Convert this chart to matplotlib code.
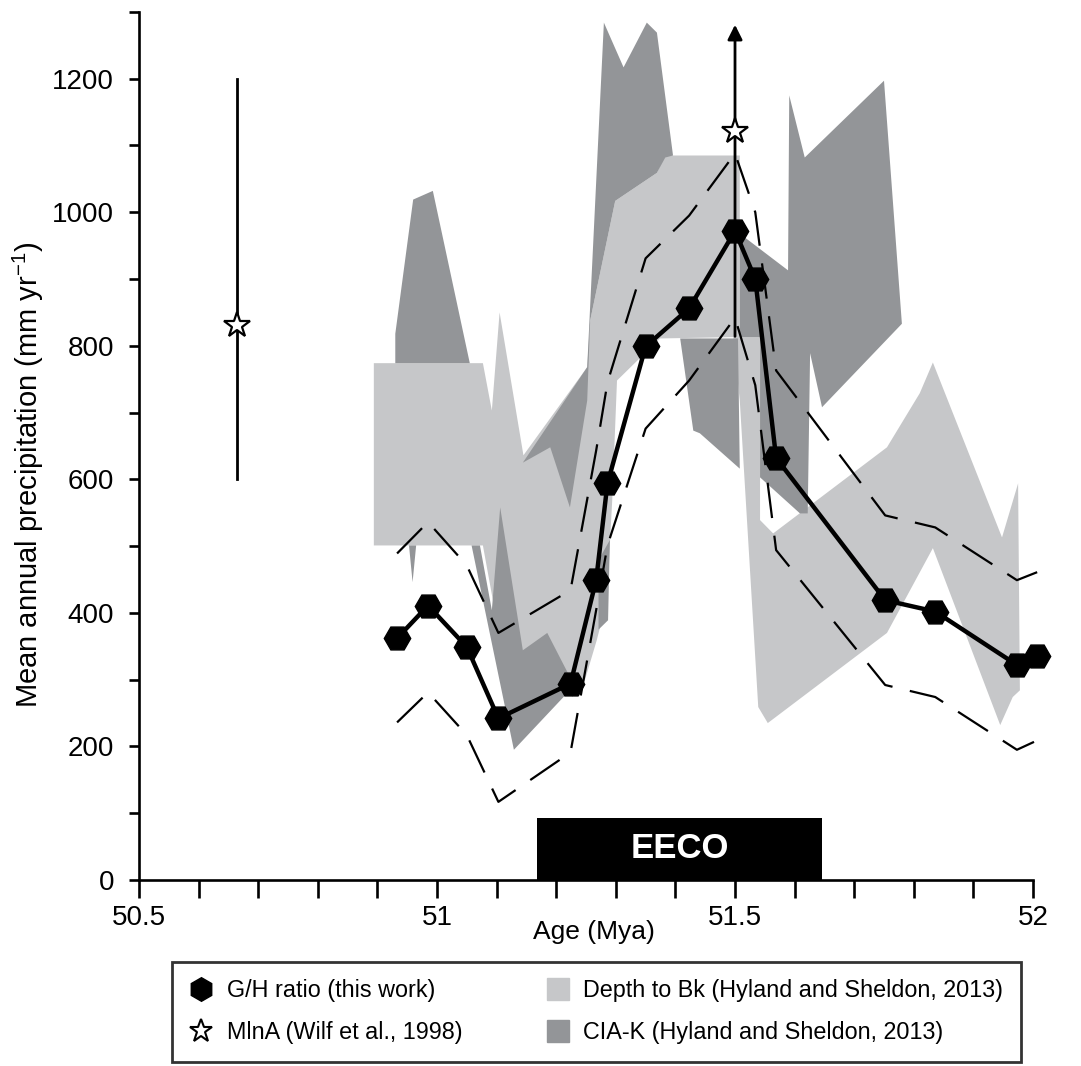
import matplotlib
matplotlib.use("Agg")
import matplotlib.pyplot as plt
from matplotlib.lines import Line2D
import numpy as np

plt.rcParams['font.family'] = ['Liberation Sans', 'DejaVu Sans']
plt.rcParams['mathtext.fontset'] = 'custom'
plt.rcParams['mathtext.rm'] = 'Liberation Sans'
plt.rcParams['mathtext.default'] = 'regular'

LIGHT = '#c6c7c9'
DARK = '#939598'

# G/H ratio (this work)
gh_age = [50.933, 50.985, 51.050, 51.103, 51.224, 51.267, 51.286, 51.350,
          51.423, 51.500, 51.534, 51.569, 51.752, 51.836, 51.973, 52.007]
gh_map = [362, 411, 349, 242, 294, 449, 594, 799, 856, 972, 900, 632, 419, 402, 322, 335]
gh_upper = [489, 536, 471, 370, 434, 643, 745, 931, 995, 1088, 1000, 763, 546, 528, 449, 461]
gh_lower = [236, 281, 217, 117, 191, 404, 501, 676, 748, 842, 741, 494, 292, 274, 195, 209]

# MlnA (Wilf et al., 1998)
mlna_age = [50.664, 51.500]
mlna_map = [831, 1121]
mlna_low = [600, 810]
mlna_high = [1200, 1285]

# Depth to Bk (Hyland and Sheldon, 2013) outline
bk_age = [50.894, 51.077, 51.092, 51.105, 51.145, 51.252, 51.257, 51.299, 51.369, 51.383,
          51.508, 51.508, 51.542, 51.542, 51.564, 51.755, 51.810, 51.832, 51.948, 51.975,
          51.978, 51.966, 51.945, 51.832, 51.755, 51.555, 51.539, 51.508, 51.497, 51.374,
          51.302, 51.294, 51.285, 51.268, 51.248, 51.227, 51.185, 51.144, 51.106, 51.077, 50.894]
bk_map = [774, 774, 703, 850, 636, 768, 838, 1017, 1059, 1085,
          1085, 813, 813, 539, 519, 648, 729, 775, 513, 594,
          284, 274, 232, 497, 370, 235, 259, 718, 813, 811,
          748, 569, 419, 359, 299, 274, 359, 337, 359, 501, 501]

# CIA-K (Hyland and Sheldon, 2013) outlines
cia_age = [
    [50.930, 50.930, 50.960, 50.993, 51.055],
    [50.953, 50.959, 50.965],
    [51.058, 51.072, 51.092, 51.106, 51.144, 51.185, 51.223, 51.227, 51.129],
    [51.144, 51.252, 51.280, 51.313, 51.352, 51.369, 51.396, 51.383, 51.369, 51.299,
     51.257, 51.252, 51.223, 51.190],
    [51.271, 51.290, 51.287, 51.271],
    [51.408, 51.505, 51.508, 51.441, 51.430],
    [51.508, 51.589, 51.591, 51.617, 51.750, 51.780, 51.646, 51.626, 51.622, 51.609,
     51.542, 51.542, 51.508],
]
cia_map = [
    [774, 818, 1019, 1032, 774],
    [501, 446, 501],
    [501, 501, 404, 558, 344, 370, 304, 288, 195],
    [625, 768, 1284, 1217, 1284, 1269, 1085, 1082, 1059, 1017, 838, 718, 558, 648],
    [479, 509, 389, 375],
    [811, 811, 616, 669, 673],
    [968, 913, 1175, 1082, 1197, 833, 708, 789, 549, 549, 603, 813, 813],
]

# EECO interval
eeco_start, eeco_end, eeco_height = 51.168, 51.646, 93

fig = plt.figure(figsize=(10.81, 10.66), dpi=100)
ax = fig.add_axes([0.1286, 0.1745, 0.827, 0.8143])

ax.fill(bk_age, bk_map, color=LIGHT, lw=0, zorder=1)
for xs, ys in zip(cia_age, cia_map):
    ax.fill(xs, ys, color=DARK, lw=0, zorder=2)

ax.bar(eeco_start, eeco_height, width=eeco_end - eeco_start, align='edge',
       color='black', zorder=3)
ax.text((eeco_start + eeco_end) / 2, eeco_height / 2, 'EECO', color='white',
        fontsize=25, fontweight='bold', ha='center', va='center', zorder=4)

dash = (0, (16, 8))
ax.plot(gh_age, gh_upper, color='black', lw=1.6, ls=dash, zorder=4, clip_on=False)
ax.plot(gh_age, gh_lower, color='black', lw=1.6, ls=dash, zorder=4, clip_on=False)

# MlnA error bars, second one open-ended (arrow)
ax.plot([mlna_age[0], mlna_age[0]], [mlna_low[0], mlna_high[0]], color='black', lw=2, zorder=5)
ax.annotate('', xy=(mlna_age[1], mlna_high[1]), xytext=(mlna_age[1], mlna_low[1]),
            arrowprops=dict(arrowstyle='-|>', color='black', lw=2, mutation_scale=22),
            zorder=5)

ax.plot(gh_age, gh_map, color='black', lw=3.2, marker='H', markersize=19,
        zorder=6, clip_on=False)
ax.plot(mlna_age, mlna_map, ls='none', marker='*', markersize=19, markerfacecolor='white',
        markeredgecolor='black', markeredgewidth=1.6, zorder=7)

ax.set_xlim(50.5, 52.0)
ax.set_ylim(0, 1300)
for s in ['top', 'right']:
    ax.spines[s].set_visible(False)
for s in ['left', 'bottom']:
    ax.spines[s].set_linewidth(1.9)

ax.set_xticks(np.arange(50.5, 52.01, 0.5))
ax.set_xticklabels(['50.5', '51', '51.5', '52'])
ax.set_xticks(np.arange(50.5, 52.01, 0.1), minor=True)
ax.set_yticks(np.arange(0, 1201, 200))
ax.set_yticks(np.arange(100, 1301, 200), minor=True)
ax.tick_params(axis='x', which='both', length=13, width=1.9, labelsize=20, pad=5)
ax.tick_params(axis='y', which='both', length=7, width=1.9, labelsize=20, pad=11)

ax.set_xlabel('Age (Mya)', fontsize=19, va='center')
ax.xaxis.set_label_coords(0.509, -0.060)
ax.set_ylabel('Mean annual precipitation (mm yr$^{-1}$)', fontsize=21)
ax.yaxis.set_label_coords(-0.104, 0.467)

handles = [
    Line2D([], [], ls='none', marker='h', markersize=17, color='black'),
    Line2D([], [], ls='none', marker='*', markersize=17, markerfacecolor='white',
           markeredgecolor='black', markeredgewidth=1.5),
    Line2D([], [], ls='none', marker='s', markersize=16, color=LIGHT),
    Line2D([], [], ls='none', marker='s', markersize=16, color=DARK),
]
labels = ['G/H ratio (this work)', 'MlnA (Wilf et al., 1998)',
          'Depth to Bk (Hyland and Sheldon, 2013)', 'CIA-K (Hyland and Sheldon, 2013)']
leg = fig.legend(handles, labels, ncol=2, loc='upper left',
                 bbox_to_anchor=(172 / 1081, 1 - 962 / 1066), borderaxespad=0,
                 fontsize=16.8, frameon=True, fancybox=False, edgecolor='black',
                 handlelength=1.0, handletextpad=0.6, columnspacing=3.58,
                 labelspacing=0.8, borderpad=0.75)
leg.get_frame().set_linewidth(2)

fig.savefig('out.png', dpi=100)
